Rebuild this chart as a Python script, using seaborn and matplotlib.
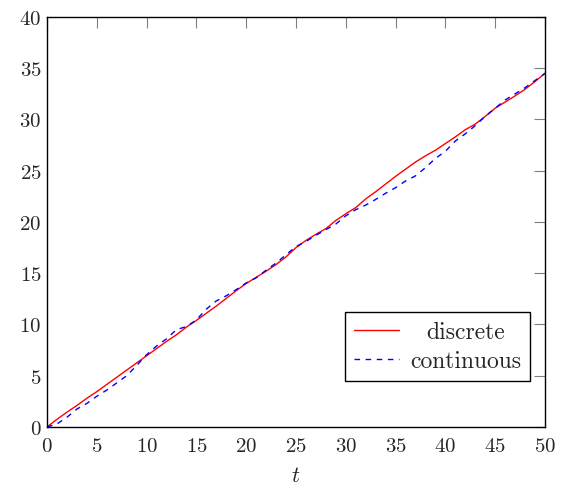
import matplotlib
matplotlib.use("Agg")
import matplotlib.pyplot as plt
from matplotlib.transforms import Affine2D
import numpy as np
import pandas as pd
import seaborn as sns

# values, one per integer t
t_values = list(range(51))
discrete = [0.0, 0.75, 1.45, 2.1, 2.8, 3.45, 4.15, 4.85, 5.55, 6.25,
            6.95, 7.65, 8.35, 9.0, 9.75, 10.4, 11.1, 11.8, 12.55, 13.3,
            14.0, 14.6, 15.2, 15.85, 16.6, 17.5, 18.2, 18.8, 19.35, 20.15,
            20.8, 21.4, 22.25, 22.95, 23.7, 24.45, 25.15, 25.85, 26.45, 27.0,
            27.65, 28.3, 29.0, 29.55, 30.3, 31.1, 31.7, 32.3, 32.95, 33.7,
            34.5]
continuous = [0.0, 0.3, 0.95, 1.75, 2.3, 3.0, 3.6, 4.3, 5.0, 6.0,
              7.05, 7.9, 8.6, 9.5, 9.8, 10.45, 11.5, 12.3, 12.8, 13.4,
              14.05, 14.55, 15.3, 16.0, 16.8, 17.6, 18.1, 18.7, 19.25, 19.8,
              20.6, 21.2, 21.65, 22.2, 22.8, 23.35, 24.0, 24.5, 25.3, 26.2,
              26.9, 27.9, 28.6, 29.4, 30.3, 31.1, 31.9, 32.5, 33.1, 33.8,
              34.5]
x_ticks = list(range(0, 51, 5))
y_ticks = list(range(0, 41, 5))

sns.set_style("white")
plt.rcParams['font.family'] = ['cmr10', 'DejaVu Serif']
plt.rcParams['mathtext.fontset'] = 'cm'
plt.rcParams['axes.formatter.use_mathtext'] = True

df = pd.DataFrame({'t': t_values, 'discrete': discrete, 'continuous': continuous})

fig = plt.figure(figsize=(5.69, 4.85), dpi=100)
ax = fig.add_axes([0.0826, 0.1175, 0.8752, 0.8455])

sns.lineplot(data=df, x='t', y='discrete', ax=ax, color='#ff0000', lw=1.0, label='discrete')
sns.lineplot(data=df, x='t', y='continuous', ax=ax, color='#0000ff', lw=1.0,
             label='continuous', dashes=False)
ax.lines[1].set_dashes([4, 4])

ax.set_xlim(0, 50)
ax.set_ylim(0, 40)
ax.set_xticks(x_ticks)
ax.set_yticks(y_ticks)
ax.tick_params(direction='in', length=8, width=0.8, color='0.5',
               top=True, right=True, labelsize=15, pad=4)
ax.tick_params(axis='x', pad=7)
for s in ax.spines.values():
    s.set_color('black')
    s.set_linewidth(1.0)

ax.set_xlabel('$t$', fontsize=16, labelpad=8)
ax.set_ylabel('')

leg = ax.legend(loc='lower right', bbox_to_anchor=(0.97, 0.112), borderaxespad=0,
                fancybox=False, framealpha=1, edgecolor='black', fontsize=17,
                handlelength=1.9, handletextpad=0.5, borderpad=0.37, labelspacing=0.3)
leg.get_frame().set_linewidth(1.0)
for line in leg.get_lines():
    line.set_linewidth(1.0)

# centre the shorter legend label like pgfplots does
renderer = fig.canvas.get_renderer()
widths = [t.get_window_extent(renderer).width for t in leg.texts]
wmax = max(widths)
for t, w in zip(leg.texts, widths):
    t.set_transform(t.get_transform() + Affine2D().translate((wmax - w) / 2, 0))

fig.savefig('out.png', dpi=100)
